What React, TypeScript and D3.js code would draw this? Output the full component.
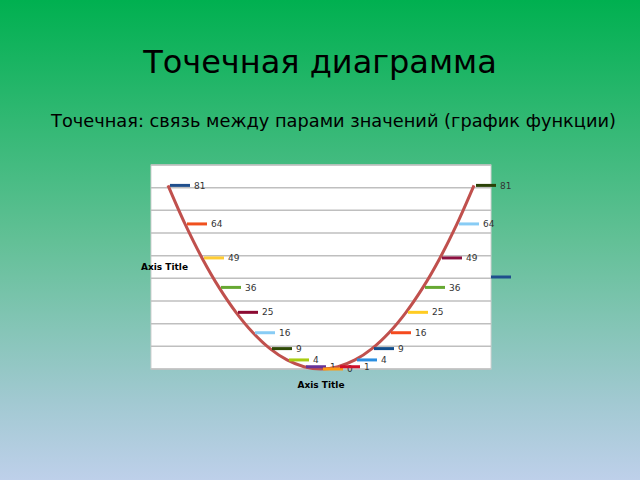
import React from "react";
import * as d3 from "d3";

const xValues = [-9, -8, -7, -6, -5, -4, -3, -2, -1, 0, 1, 2, 3, 4, 5, 6, 7, 8, 9];
const yValues = [81, 64, 49, 36, 25, 16, 9, 4, 1, 0, 1, 4, 9, 16, 25, 36, 49, 64, 81];
const pointColors = [
  "#1f4e8c", "#f0501e", "#ffcc33", "#66a832", "#8c0a32", "#88ccf5", "#2f4a06", "#a8cc10", "#663399", "#ff9a10",
  "#d0102a", "#2a8ee0", "#124e8c", "#f54a1e", "#ffcc22", "#66a832", "#8c1040", "#88ccf5", "#2a4206",
];
const yGridTicks = [0, 10, 20, 30, 40, 50, 60, 70, 80, 90];

const title = "Точечная диаграмма";
const subtitle = "Точечная: связь между парами значений (график функции)";
const axisTitle = "Axis Title";

export default function App() {
  const W = 640;
  const H = 480;
  const plot = { left: 151, right: 491, top: 165, bottom: 369 };

  const x = d3.scaleLinear().domain([-10, 10]).range([plot.left, plot.right]);
  const y = d3.scaleLinear().domain([0, 90]).range([plot.bottom, plot.top]);

  const points = xValues.map((v, i) => ({ x: v, y: yValues[i], color: pointColors[i] }));
  const line = d3
    .line<{ x: number; y: number }>()
    .x((d) => x(d.x))
    .y((d) => y(d.y))
    .curve(d3.curveCatmullRom.alpha(0.5));

  const font = "'DejaVu Sans', Verdana, sans-serif";

  return (
    <svg
      width={W}
      height={H}
      style={{ position: "absolute", left: 0, top: 0, display: "block" }}
      fontFamily={font}
    >
      <defs>
        <linearGradient id="bg" x1="0" y1="0" x2="0" y2="1">
          <stop offset="0" stopColor="#00b050" />
          <stop offset="0.5" stopColor="#62c096" />
          <stop offset="0.84" stopColor="#a2c9d2" />
          <stop offset="1" stopColor="#bed0ea" />
        </linearGradient>
      </defs>
      <rect x={0} y={0} width={W} height={H} fill="url(#bg)" />

      <text x={320} y={73} textAnchor="middle" fontSize={32} fill="#000">
        {title}
      </text>
      <text x={333.5} y={127} textAnchor="middle" fontSize={17.8} fill="#000">
        {subtitle}
      </text>

      {/* plot area */}
      <rect
        x={plot.left}
        y={plot.top}
        width={plot.right - plot.left}
        height={plot.bottom - plot.top}
        fill="#fff"
        stroke="#d0d0d0"
        strokeWidth={1}
      />
      {yGridTicks.map((t) => (
        <line
          key={t}
          x1={plot.left}
          x2={plot.right}
          y1={y(t)}
          y2={y(t)}
          stroke="#bfbfbf"
          strokeWidth={1.5}
        />
      ))}

      <path d={line(points) ?? ""} fill="none" stroke="#c0504d" strokeWidth={3} />

      {/* data labels with keys */}
      {points.map((p, i) => {
        const px = x(p.x);
        const py = y(p.y);
        return (
          <g key={i}>
            <line x1={px + 2} x2={px + 22} y1={py} y2={py} stroke={p.color} strokeWidth={3} />
            <text x={px + 26} y={py} dy="0.35em" fontSize={9} fill="#333">
              {p.y}
            </text>
          </g>
        );
      })}

      {/* legend key */}
      <line x1={491} x2={511} y1={277} y2={277} stroke="#1f4e8c" strokeWidth={3} />

      <text x={141} y={270} fontSize={9} fontWeight="bold" fill="#000">
        {axisTitle}
      </text>
      <text x={x(0)} y={388} textAnchor="middle" fontSize={9} fontWeight="bold" fill="#000">
        {axisTitle}
      </text>
    </svg>
  );
}
